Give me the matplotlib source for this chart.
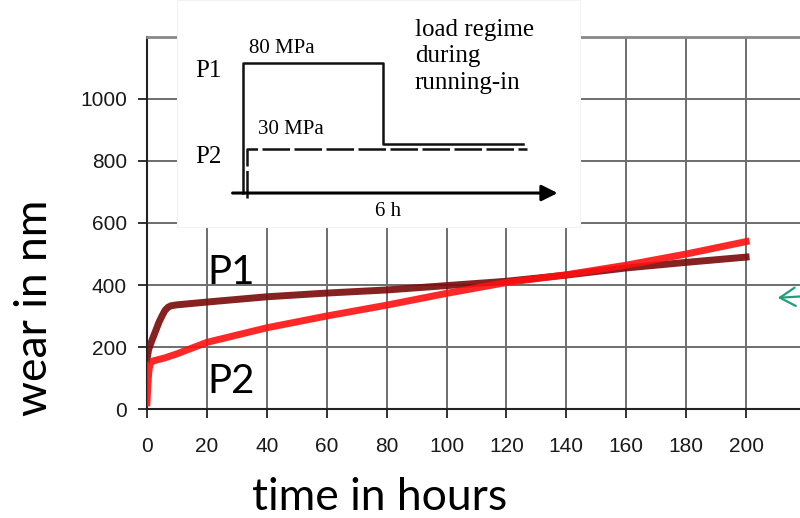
import matplotlib.pyplot as plt
from matplotlib.transforms import offset_copy

# wear curves (hours, nm)
t_p1 = [0, 0.5, 1, 2, 3, 4, 5, 6, 7, 8, 10, 20, 40, 60, 80, 100, 120, 140, 160, 180, 200]
w_p1 = [160, 190, 205, 230, 255, 280, 300, 318, 328, 333, 336, 345, 362, 374, 384, 398, 412, 432, 455, 473, 490]

t_p2 = [0, 0.3, 0.6, 1, 2, 4, 6, 10, 20, 40, 60, 80, 100, 120, 140, 160, 180, 200]
w_p2 = [20, 80, 120, 145, 155, 160, 165, 178, 215, 262, 300, 335, 373, 408, 433, 464, 500, 540]

# running-in load regime (inset): hours, MPa
load_t_p1 = [0, 0, 6, 6, 12]
load_p_p1 = [0, 80, 80, 30, 30]
load_t_p2 = [0, 0, 12]
load_p_p2 = [0, 30, 30]

xticks = [0, 20, 40, 60, 80, 100, 120, 140, 160, 180, 200]
yticks = [0, 200, 400, 600, 800, 1000]

fig = plt.figure(figsize=(8, 5.18), dpi=100)
ax = fig.add_axes([0.18375, 0.2104, 0.8237, 0.7182])

ax.plot(t_p1, w_p1, color='#7a0a0a', lw=5, alpha=0.9, zorder=3)
ax.plot(t_p2, w_p2, color='#ff1010', lw=5, alpha=0.9, zorder=4)

ax.set_xlim(0, 220)
ax.set_ylim(0, 1200)
ax.set_xticks(xticks)
ax.set_yticks(yticks)
ax.grid(True, color='#6e6e6e', lw=1.4)
ax.set_axisbelow(True)
ax.spines['right'].set_visible(False)
ax.spines['top'].set_color('#888888')
ax.spines['top'].set_linewidth(2)
for s in ['left', 'bottom']:
    ax.spines[s].set_color('#222222')
    ax.spines[s].set_linewidth(1.5)
ax.tick_params(axis='both', direction='out', length=6.5, width=1.3, color='#222222')
ax.tick_params(axis='x', pad=14)
ax.tick_params(axis='y', pad=8)
for lab in ax.get_xticklabels() + ax.get_yticklabels():
    lab.set_fontfamily('Liberation Sans')
    lab.set_fontsize(15)
    lab.set_color('#1a1a1a')

# axis titles placed where the reference has them
fig.text(380 / 800, 1 - 497 / 518, 'time in hours', fontfamily='Lato', fontsize=32,
         ha='center', va='center')
fig.text(35 / 800, 1 - 308 / 518, 'wear in nm', fontfamily='Lato', fontsize=32,
         ha='center', va='center', rotation=90)

ax.text(20, 440, 'P1', fontfamily='Lato', fontsize=29, ha='left', va='center')
ax.text(20, 90, 'P2', fontfamily='Lato', fontsize=29, ha='left', va='center')

# green arrow at the right edge
ax.annotate('', xy=(775 / 800, 1 - 298 / 518), xytext=(1.01, 1 - 296 / 518),
            xycoords='figure fraction', textcoords='figure fraction',
            arrowprops=dict(arrowstyle='->, head_length=0.5, head_width=0.3',
                            color='#1f9e7d', lw=1.6, mutation_scale=22))

# inset with load regime
ax_in = fig.add_axes([0.221, 0.5618, 0.504, 0.4382])
ax_in.set_facecolor('white')
ax_in.set_xlim(-2.83, 14.44)
ax_in.set_ylim(-20.9, 118.8)
ax_in.set_xticks([])
ax_in.set_yticks([])
for s in ax_in.spines.values():
    s.set_color('#f2f2f2')
    s.set_linewidth(0.8)

ax_in.annotate('', xy=(13.6, 0), xytext=(-0.56, 0),
               arrowprops=dict(arrowstyle='-|>', color='black', lw=2.2,
                               mutation_scale=24))
ax_in.plot(load_t_p1, load_p_p1, color='#111111', lw=1.8)
tr = offset_copy(ax_in.transData, fig=fig, x=4, y=-5, units='dots')
ax_in.plot(load_t_p2, load_p_p2, color='#111111', lw=1.8, ls=(0, (11, 1.8)),
           transform=tr)

serif = 'Liberation Serif'
ax_in.text(-0.9, 75, 'P1', fontfamily=serif, fontsize=18, ha='right', va='center')
ax_in.text(-0.9, 22, 'P2', fontfamily=serif, fontsize=18, ha='right', va='center')
ax_in.text(1.65, 89, '80 MPa', fontfamily=serif, fontsize=15, ha='center', va='center')
ax_in.text(2.05, 39, '30 MPa', fontfamily=serif, fontsize=15, ha='center', va='center')
ax_in.text(6.2, -11.5, '6 h', fontfamily=serif, fontsize=15, ha='center', va='center')
ax_in.text(7.37, 107, 'load regime\nduring\nrunning-in', fontfamily=serif,
           fontsize=18, ha='left', va='top', linespacing=1.25)

fig.savefig('out.png', dpi=100)
